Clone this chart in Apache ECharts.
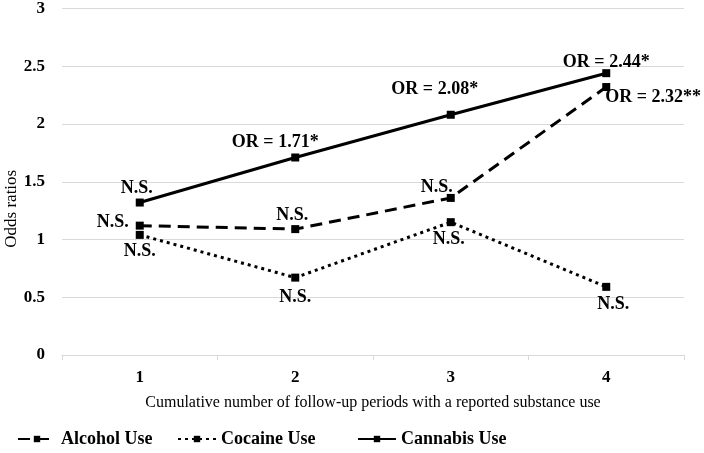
<!DOCTYPE html>
<html>
<head>
<meta charset="utf-8">
<script src="https://cdn.jsdelivr.net/npm/echarts@6/dist/echarts.min.js"></script>
<style>
  html, body { margin: 0; padding: 0; background: #fff; }
  #chart { width: 704px; height: 453px; }
</style>
</head>
<body>
<div id="chart"></div>
<script>
// 随访期次数 vs 比值比
var categories = ['1', '2', '3', '4'];
var alcohol = [1.12, 1.09, 1.36, 2.32];
var cocaine = [1.04, 0.67, 1.15, 0.59];
var cannabis = [1.32, 1.71, 2.08, 2.44];
var alcoholLabels = ['N.S.', 'N.S.', 'N.S.', 'OR = 2.32**'];
var cocaineLabels = ['N.S.', 'N.S.', 'N.S.', 'N.S.'];
var cannabisLabels = ['N.S.', 'OR = 1.71*', 'OR = 2.08*', 'OR = 2.44*'];

// label placement (style only)
var alcoholPos = [
    {position: 'left', distance: 7, offset: [0, -3]},
    {position: 'top', distance: 1, offset: [-3, 0]},
    {position: 'top', distance: -2, offset: [-14, 0]},
    {position: 'right', distance: 0, offset: [-5, 10]}
];
var cocainePos = [
    {position: 'bottom', distance: 3, offset: [0, 0]},
    {position: 'bottom', distance: 7, offset: [0, 0]},
    {position: 'bottom', distance: 4, offset: [-2, 0]},
    {position: 'bottom', distance: 4, offset: [7, 0]}
];
var cannabisPos = [
    {position: 'top', distance: 1, offset: [-3, 0]},
    {position: 'top', distance: 2, offset: [-20, 0]},
    {position: 'top', distance: 12, offset: [-16, 0]},
    {position: 'top', distance: -2, offset: [0, 0]}
];

var serif = '"Liberation Serif", "Times New Roman", serif';

function build(values, labels, pos) {
    return values.map(function (v, i) {
        return {
            value: v,
            label: {
                show: true,
                formatter: labels[i],
                position: pos[i].position,
                distance: pos[i].distance,
                offset: pos[i].offset
            }
        };
    });
}

function lineSeries(name, type, values, labels, pos) {
    return {
        name: name,
        type: 'line',
        symbol: 'rect',
        symbolSize: 8,
        showSymbol: true,
        animation: false,
        lineStyle: { color: '#000', width: 3, type: type },
        itemStyle: { color: '#000' },
        label: {
            color: '#000',
            fontFamily: serif,
            fontWeight: 'bold',
            fontSize: 18
        },
        data: build(values, labels, pos)
    };
}

function legendAt(left, name) {
    return {
        bottom: 0,
        left: left,
        itemWidth: 38,
        itemHeight: 8,
        textStyle: { color: '#000', fontFamily: serif, fontWeight: 'bold', fontSize: 18 },
        data: [name]
    };
}

var chart = echarts.init(document.getElementById('chart'));
var option = {
    backgroundColor: '#fff',
    textStyle: { fontFamily: serif },
    grid: {
        left: 62,
        right: 20,
        top: 8.5,
        bottom: 98,
        outerBoundsMode: 'none',
        containLabel: false
    },
    legend: [
        legendAt(12, 'Alcohol Use'),
        legendAt(172, 'Cocaine Use'),
        legendAt(352, 'Cannabis Use')
    ],
    xAxis: {
        type: 'category',
        data: categories,
        name: 'Cumulative number of follow-up periods with a reported substance use',
        nameLocation: 'middle',
        nameGap: 40,
        nameTextStyle: { color: '#000', fontSize: 16, fontFamily: serif },
        axisLine: { lineStyle: { color: '#d9d9d9', width: 1 } },
        axisTick: { show: true, length: 5, lineStyle: { color: '#d9d9d9' } },
        axisLabel: { color: '#000', fontWeight: 'bold', fontSize: 17, margin: 14, fontFamily: serif }
    },
    yAxis: {
        type: 'value',
        min: 0,
        max: 3,
        interval: 0.5,
        name: 'Odds ratios',
        nameLocation: 'middle',
        nameGap: 42,
        nameMoveOverlap: false,
        nameTextStyle: { color: '#000', fontSize: 17, fontFamily: serif, padding: [0, 54, 0, 0] },
        axisLine: { show: false },
        axisTick: { show: false },
        axisLabel: { color: '#000', fontWeight: 'bold', fontSize: 17, margin: 17, fontFamily: serif },
        splitLine: { lineStyle: { color: '#d9d9d9' } }
    },
    series: [
        lineSeries('Alcohol Use', [12, 7], alcohol, alcoholLabels, alcoholPos),
        lineSeries('Cocaine Use', [3, 4], cocaine, cocaineLabels, cocainePos),
        lineSeries('Cannabis Use', 'solid', cannabis, cannabisLabels, cannabisPos)
    ]
};
chart.setOption(option);
</script>
</body>
</html>
